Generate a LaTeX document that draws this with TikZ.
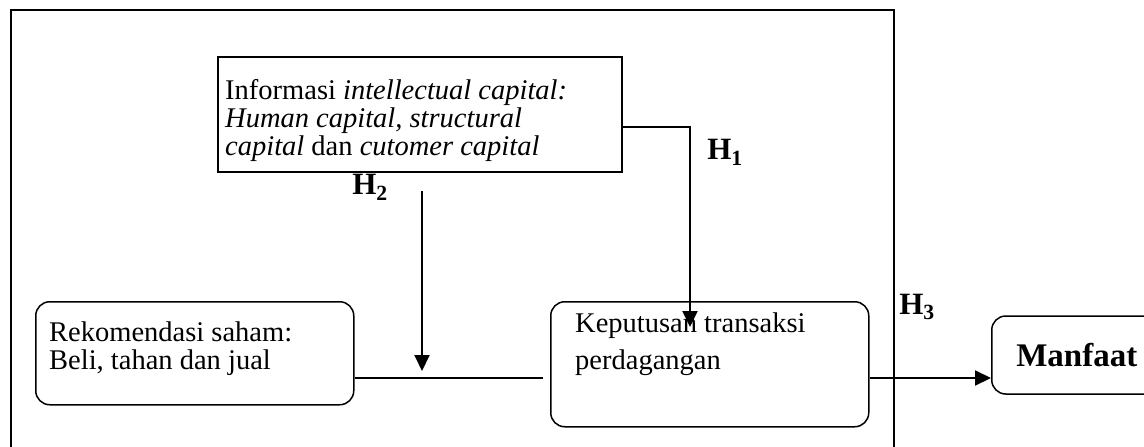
\documentclass[tikz,border=0pt]{standalone}
\usepackage{fontspec}
\setmainfont{Liberation Serif}
\usetikzlibrary{positioning,calc,arrows.meta}

\tikzset{
  frameline/.style={line width=1.5pt},
  sqbox/.style={draw, line width=1.5pt, anchor=north west, inner sep=0pt},
  rbox/.style={sqbox, rounded corners=14pt},
  boxtext/.style={inner sep=0pt, anchor=north west, align=left, font=\fontsize{28.5}{28}\selectfont},
  hlabel/.style={inner sep=0pt, font=\fontsize{31}{31}\selectfont\bfseries},
  link/.style={line width=2pt},
  linkarrow/.style={link, -{Triangle[width=15pt,length=16pt]}},
}

\begin{document}
\begin{tikzpicture}[x=1pt,y=-1pt]
    \useasboundingbox (0,0) rectangle (1144,447);

    % Outer frame (open at the bottom)
    \draw[frameline] (11,447) -- (11,10) -- (894,10) -- (894,447);

    % Boxes
    \node[sqbox, minimum width=404pt, minimum height=115pt] (info) at (217,56) {};
    \node[rbox, minimum width=318pt, minimum height=103pt] (rekom) at (35,301) {};
    \node[rbox, minimum width=318pt, minimum height=125pt] (keputusan) at (550,301) {};
    \node[rbox, anchor=west, minimum width=170pt, minimum height=78pt,
          font=\fontsize{33}{33}\selectfont\bfseries] (manfaat) at (991,355) {Manfaat};

    % Box texts
    \node[boxtext, below right=23pt and 8pt of info.north west] (infotext)
        {Informasi \textit{intellectual capital:}\\
         \textit{Human capital, structural}\\
         \textit{capital} dan \textit{cutomer capital}};
    \node[boxtext, below right=21pt and 14pt of rekom.north west] (rekomtext)
        {Rekomendasi saham:\\Beli, tahan dan jual};
    \node[boxtext, below right=12pt and 25pt of keputusan.north west] (keputusantext)
        {Keputusan transaksi\\[9pt]perdagangan};

    % Hypothesis labels
    \node[hlabel] (hone) at (725,152) {H\textsubscript{1}};
    \node[hlabel] (htwo) at (370,187) {H\textsubscript{2}};
    \node[hlabel] (hthree) at (917,307) {H\textsubscript{3}};

    % Connectors
    \coordinate (hturn) at (690,127);
    \coordinate (honetip) at (690,327);
    \coordinate (htwotop) at (422,191);
    \coordinate (htwotip) at (422,371);
    \coordinate (hjoin) at (543,378);

    \draw[linkarrow] (info.east |- hturn) -- (hturn) -- (honetip);
    \draw[linkarrow] (htwotop) -- (htwotip);
    \draw[link] (rekom.east |- hjoin) -- (hjoin);
    \draw[linkarrow] (keputusan.east |- hjoin) -- (manfaat.west |- hjoin);
\end{tikzpicture}
\end{document}
